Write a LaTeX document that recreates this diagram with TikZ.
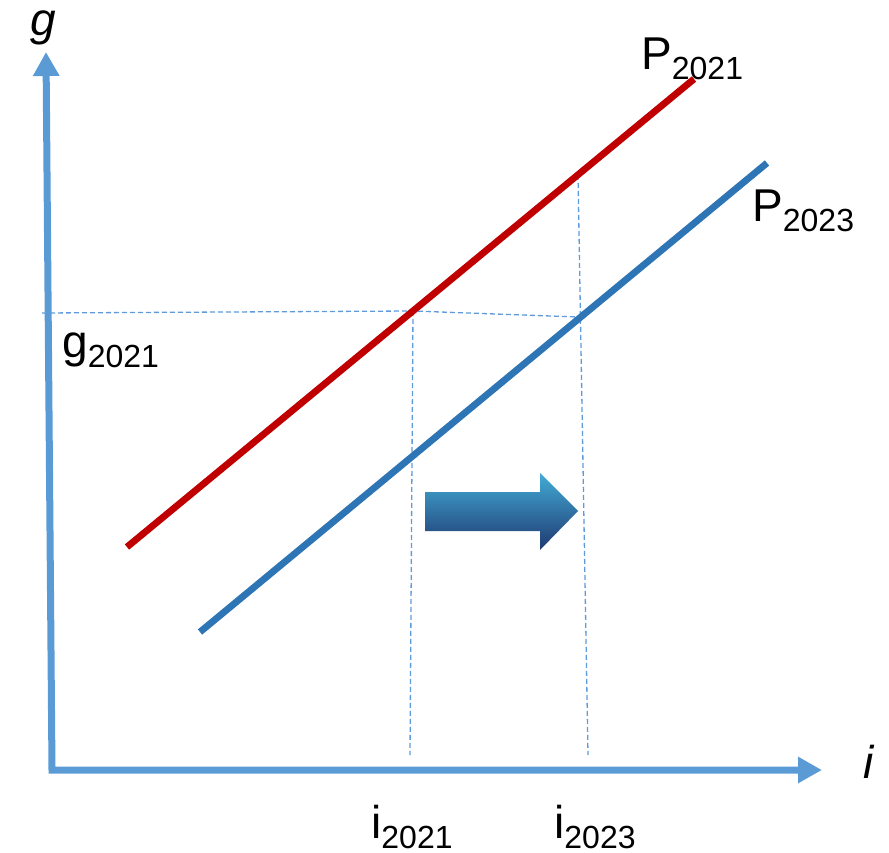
\documentclass[tikz,border=0pt]{standalone}
\usepackage{fontspec}
\setmainfont{Liberation Sans}
\usetikzlibrary{arrows.meta}
\definecolor{axisblue}{RGB}{91,155,213}
\definecolor{pred}{RGB}{192,0,0}
\definecolor{pblue}{RGB}{46,117,182}
\definecolor{dashblue}{RGB}{95,155,220}
\definecolor{arrtop}{RGB}{66,172,214}
\definecolor{arrbot}{RGB}{31,56,112}
\newcommand{\mylab}[2]{{\fontsize{46}{50}\selectfont #1}\raisebox{-10pt}{\fontsize{32}{36}\selectfont #2}}
\tikzset{
  axisline/.style={draw=axisblue, line width=7pt, line join=miter,
    {Triangle[length=24pt,width=25pt]}-{Triangle[length=24pt,width=25pt]}},
  curve/.style={line width=6.8pt},
  guide/.style={draw=dashblue, line width=1.3pt, dash pattern=on 5pt off 3pt},
  lbl/.style={anchor=base west, inner sep=0pt, text=black}
}
\begin{document}
\begin{tikzpicture}[x=1pt,y=-1pt]
\useasboundingbox (0,0) rectangle (889,853);
% axes
\coordinate (ytip) at (46,52);
\coordinate (orig) at (52,770);
\coordinate (xtip) at (822,770);
\draw[axisline] (ytip) -- (orig) -- (xtip);
% guide lines
\coordinate (gl) at (42,313);
\coordinate (r1) at (413,311);
\coordinate (b1) at (578,317);
\coordinate (r2) at (578,175);
\coordinate (i1) at (410,755);
\coordinate (i2) at (588,755);
\draw[guide] (gl) -- (r1) -- (b1);
\draw[guide] (r1) -- (i1);
\draw[guide] (r2) -- (i2);
% price lines
\coordinate (ra) at (127,547);
\coordinate (rb) at (694,79);
\coordinate (ba) at (200,632);
\coordinate (bb) at (767,163);
\draw[curve, draw=pred] (ra) -- (rb);
\draw[curve, draw=pblue] (ba) -- (bb);
% shift arrow
\shade[top color=arrtop, bottom color=arrbot]
  (425,492) -- (540,492) -- (540,473) -- (578,511) -- (540,550) -- (540,531) -- (425,531) -- cycle;
% labels
\node[lbl] (gax) at (30,36) {\fontsize{46}{50}\selectfont\itshape g};
\node[lbl] (iax) at (863,778) {\fontsize{46}{50}\selectfont\itshape i};
\node[lbl] (p21) at (641,70) {\mylab{P}{2021}};
\node[lbl] (p23) at (752,222) {\mylab{P}{2023}};
\node[lbl] (g21) at (62,357) {\mylab{g}{2021}};
\node[lbl] (i21) at (371,838) {\mylab{i}{2021}};
\node[lbl] (i23) at (554,838) {\mylab{i}{2023}};
\end{tikzpicture}
\end{document}
